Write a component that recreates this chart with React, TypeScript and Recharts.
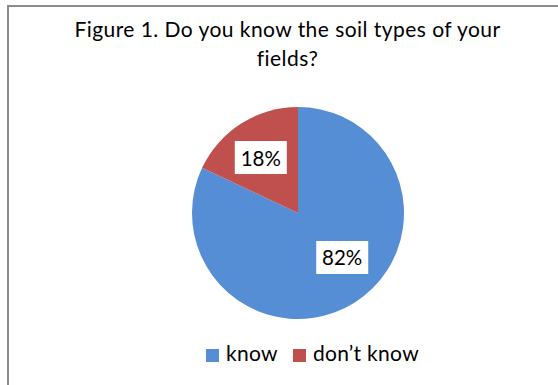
import React from 'react';
import { PieChart, Pie, Cell, Legend } from 'recharts';

// Survey answers and their shares (percent)
const categories = ['know', 'don\u2019t know'];
const shares = [82, 18];
const sliceColors = ['#558ED5', '#C0504D'];
const titleLines = ['Figure 1. Do you know the soil types of your', 'fields?'];

const data = categories.map((name, i) => ({ name, value: shares[i] }));

const FONT = 'Lato, "Open Sans", sans-serif';
const RADIAN = Math.PI / 180;

// small hand-placement tweaks for the value boxes
const LABEL_NUDGE: Record<string, { dx: number; dy: number }> = {
  know: { dx: 9, dy: -11 },
  'don\u2019t know': { dx: -2, dy: 0 },
};

const renderLabel = (props: any) => {
  const { cx, cy, midAngle, outerRadius, value, name } = props;
  const r = outerRadius * 0.62;
  const nudge = LABEL_NUDGE[name] || { dx: 0, dy: 0 };
  const x = cx + r * Math.cos(-midAngle * RADIAN) + nudge.dx;
  const y = cy + r * Math.sin(-midAngle * RADIAN) + nudge.dy;
  const w = 52;
  const h = 33;
  return (
    <g>
      <rect x={x - w / 2} y={y - h / 2} width={w} height={h} fill="#ffffff" />
      <text
        x={x}
        y={y}
        textAnchor="middle"
        dominantBaseline="central"
        fontFamily={FONT}
        fontSize={20.5}
        fill="#000"
      >
        {`${value}%`}
      </text>
    </g>
  );
};

export default function App() {
  return (
    <div
      style={{
        position: 'absolute',
        left: 0,
        top: 0,
        width: 558,
        height: 385,
        background: '#fff',
        overflow: 'hidden',
      }}
    >
      <div
        style={{
          position: 'absolute',
          left: 7,
          top: 5,
          width: 600,
          height: 420,
          borderTop: '2px solid #8c8c8c',
          borderLeft: '2px solid #8c8c8c',
        }}
      />
      <div
        style={{
          position: 'absolute',
          left: 0,
          top: 14,
          width: 575,
          textAlign: 'center',
          fontFamily: FONT,
          fontSize: 21,
          letterSpacing: 0.45,
          lineHeight: '29px',
          color: '#000',
          fontVariantLigatures: 'none',
        }}
      >
        {titleLines.map((t) => (
          <div key={t}>{t}</div>
        ))}
      </div>
      <div style={{ position: 'absolute', left: 0, top: 0 }}>
        <PieChart width={558} height={385} margin={{ top: 0, right: 0, bottom: 0, left: 0 }}>
          <Pie
            data={data}
            dataKey="value"
            nameKey="name"
            cx={298}
            cy={213}
            outerRadius={106}
            startAngle={90}
            endAngle={-270}
            stroke="none"
            label={renderLabel}
            labelLine={false}
            isAnimationActive={false}
          >
            {data.map((d, i) => (
              <Cell key={d.name} fill={sliceColors[i]} />
            ))}
          </Pie>
          <Legend
            layout="horizontal"
            align="center"
            verticalAlign="bottom"
            iconType="square"
            iconSize={13}
            itemSorter={(item: any) => categories.indexOf(item.value)}
            wrapperStyle={{
              top: 340,
              bottom: 'auto',
              left: 52,
              width: 536,
              fontFamily: FONT,
              fontSize: 21,
              letterSpacing: 0.3,
            }}
            formatter={(value: string) => (
              <span style={{ color: '#000', marginLeft: 3, marginRight: 5 }}>{value}</span>
            )}
          />
        </PieChart>
      </div>
    </div>
  );
}
